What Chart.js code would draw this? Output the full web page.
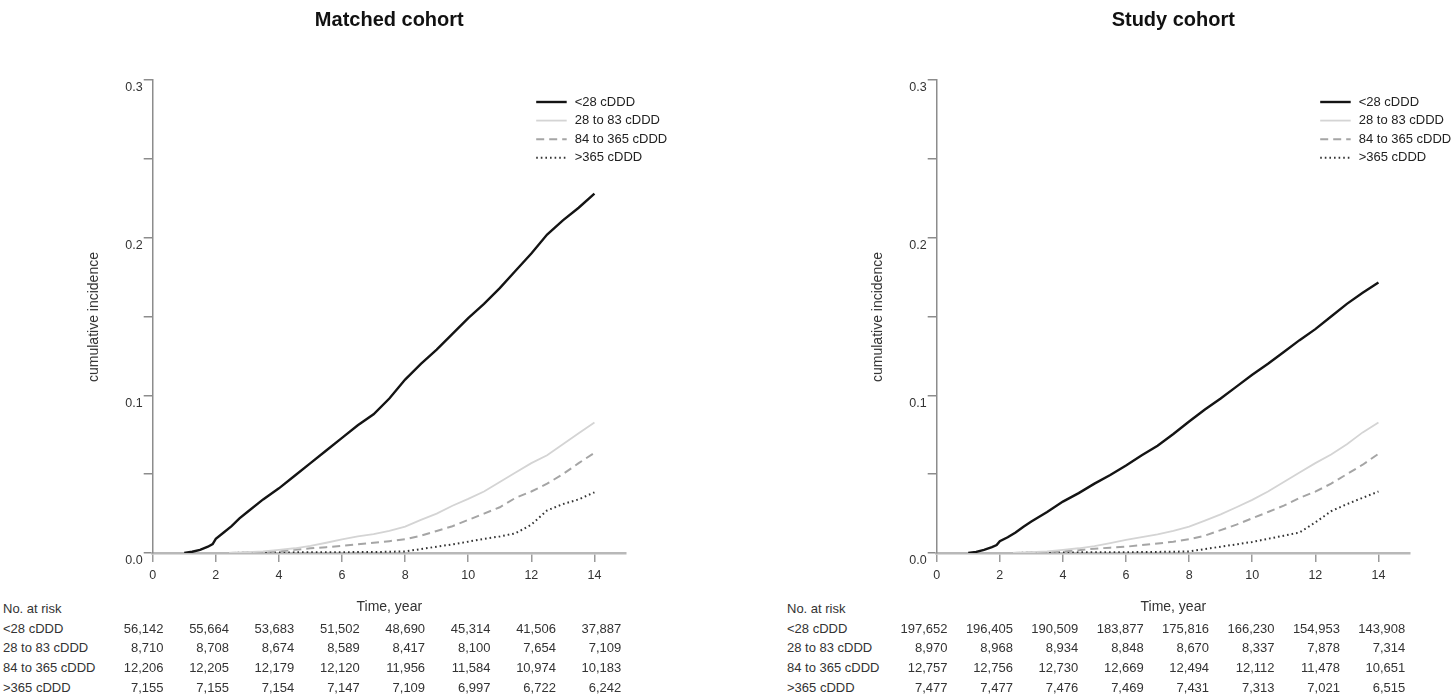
<!DOCTYPE html>
<html>
<head>
<meta charset="utf-8">
<script src="https://cdn.jsdelivr.net/npm/chart.js@4.4.1/dist/chart.umd.min.js"></script>
<style>
  body { margin: 0; background: #fff; font-family: 'Liberation Sans', Arial, sans-serif; color: #222; }
  #page { position: relative; width: 1455px; height: 694px; overflow: hidden; }
  .panel { position: absolute; top: 0; width: 700px; height: 694px; }
  .panel canvas { position: absolute; left: 0; top: 0; }
  .title { position: absolute; font-weight: bold; font-size: 20px; transform: translate(-50%, -50%); white-space: nowrap; color: #111; }
  .ylab { position: absolute; font-size: 14px; transform: translate(-50%, -50%) rotate(-90deg); white-space: nowrap; color: #333; }
  .cell { position: absolute; font-size: 13px; white-space: nowrap; line-height: 1; color: #333; transform: translateY(-50%); }
  .num { transform: translate(-100%, -50%); }
  .timehead { font-size: 14px; transform: translate(-50%, -50%); }
</style>
</head>
<body>
<div id="page">
  <div class="panel" id="panelMatched"><canvas id="matchedChart" width="700" height="600"></canvas></div>
  <div class="panel" id="panelStudy"><canvas id="studyChart" width="700" height="600"></canvas></div>
</div>
<script>
const groups = ['<28 cDDD', '28 to 83 cDDD', '84 to 365 cDDD', '>365 cDDD']

// time grids (years) for the curves
const timesEarly = [1, 1.25, 1.5, 1.75, 1.9, 2, 2.25, 2.5, 2.75, 3, 3.5, 4, 4.5, 5, 5.5, 6, 6.5, 7, 7.5, 8, 8.5, 9, 9.5, 10, 10.5, 11, 11.5, 12, 12.5, 13, 13.5, 14]
const timesLate = [2.4, 3, 3.5, 4, 4.5, 5, 5.5, 6, 6.5, 7, 7.5, 8, 8.5, 9, 9.5, 10, 10.5, 11, 11.5, 12, 12.5, 13, 13.5, 14]

// Matched cohort cumulative incidence
const matchedLt28 = [0, 0.0008, 0.002, 0.004, 0.0057, 0.009, 0.013, 0.017, 0.022, 0.026, 0.034, 0.041, 0.049, 0.057, 0.065, 0.073, 0.081, 0.088, 0.098, 0.110, 0.120, 0.129, 0.139, 0.149, 0.158, 0.168, 0.179, 0.190, 0.202, 0.211, 0.219, 0.228]
const matched28to83 = [0, 0.0005, 0.001, 0.002, 0.003, 0.0045, 0.0065, 0.0087, 0.0105, 0.012, 0.014, 0.0167, 0.021, 0.025, 0.030, 0.0343, 0.039, 0.045, 0.051, 0.057, 0.062, 0.069, 0.076, 0.0827]
const matched84to365 = [0, 0.0003, 0.0007, 0.0011, 0.002, 0.003, 0.0037, 0.0045, 0.0055, 0.0065, 0.0075, 0.0087, 0.011, 0.014, 0.017, 0.021, 0.025, 0.029, 0.035, 0.039, 0.044, 0.050, 0.057, 0.0635]
const matchedGt365 = [0, 0.0002, 0.0003, 0.0003, 0.0004, 0.0004, 0.0005, 0.0005, 0.0006, 0.0006, 0.0008, 0.001, 0.0025, 0.004, 0.0055, 0.0072, 0.009, 0.0105, 0.0125, 0.018, 0.027, 0.031, 0.034, 0.0385]

// Study cohort cumulative incidence
const studyLt28 = [0, 0.0007, 0.002, 0.0037, 0.005, 0.0075, 0.010, 0.013, 0.0167, 0.020, 0.026, 0.0326, 0.038, 0.044, 0.0495, 0.0555, 0.062, 0.068, 0.0755, 0.0834, 0.091, 0.098, 0.1055, 0.113, 0.120, 0.1275, 0.135, 0.142, 0.150, 0.158, 0.165, 0.1715]
const study28to83 = [0, 0.0005, 0.001, 0.002, 0.003, 0.0044, 0.0063, 0.0083, 0.010, 0.0118, 0.014, 0.0167, 0.0205, 0.0245, 0.029, 0.0337, 0.039, 0.045, 0.051, 0.057, 0.0625, 0.069, 0.0765, 0.0827]
const study84to365 = [0, 0.0003, 0.0006, 0.001, 0.0018, 0.0027, 0.0034, 0.004, 0.005, 0.006, 0.0072, 0.0087, 0.011, 0.0145, 0.018, 0.022, 0.026, 0.030, 0.035, 0.0389, 0.044, 0.050, 0.056, 0.0629]
const studyGt365 = [0, 0.0002, 0.0003, 0.0003, 0.0004, 0.0004, 0.0005, 0.0005, 0.0006, 0.0007, 0.0008, 0.001, 0.0025, 0.004, 0.0055, 0.007, 0.009, 0.011, 0.013, 0.0194, 0.0265, 0.031, 0.035, 0.039]

// Numbers at risk (at years 0, 2, ..., 14)
const matchedRiskLt28 = ['56,142', '55,664', '53,683', '51,502', '48,690', '45,314', '41,506', '37,887']
const matchedRisk28to83 = ['8,710', '8,708', '8,674', '8,589', '8,417', '8,100', '7,654', '7,109']
const matchedRisk84to365 = ['12,206', '12,205', '12,179', '12,120', '11,956', '11,584', '10,974', '10,183']
const matchedRiskGt365 = ['7,155', '7,155', '7,154', '7,147', '7,109', '6,997', '6,722', '6,242']
const studyRiskLt28 = ['197,652', '196,405', '190,509', '183,877', '175,816', '166,230', '154,953', '143,908']
const studyRisk28to83 = ['8,970', '8,968', '8,934', '8,848', '8,670', '8,337', '7,878', '7,314']
const studyRisk84to365 = ['12,757', '12,756', '12,730', '12,669', '12,494', '12,112', '11,478', '10,651']
const studyRiskGt365 = ['7,477', '7,477', '7,476', '7,469', '7,431', '7,313', '7,021', '6,515']

const FONT = 'Liberation Sans, Arial, sans-serif'

const lineStyles = [
  { borderColor: '#141414', borderWidth: 2.4, borderDash: [] },
  { borderColor: '#d4d4d4', borderWidth: 1.8, borderDash: [] },
  { borderColor: '#a5a5a5', borderWidth: 2, borderDash: [8, 5] },
  { borderColor: '#333333', borderWidth: 2, borderDash: [1.6, 3] }
]

const toPoints = (times, values) => values.map((v, i) => ({ x: times[i], y: v }))

// legend drawn inside the plot, top right, from the datasets' own styles
const legendBox = {
  id: 'legendBox',
  afterDraw(chart, args, opts) {
    const ctx = chart.ctx
    const { left, top } = chart.chartArea
    chart.data.datasets.forEach((ds, i) => {
      const y = top + opts.offsetY + i * opts.rowGap
      const x0 = left + opts.offsetX
      ctx.save()
      ctx.strokeStyle = ds.borderColor
      ctx.lineWidth = ds.borderWidth
      ctx.setLineDash(ds.borderDash || [])
      ctx.beginPath()
      ctx.moveTo(x0, y)
      ctx.lineTo(x0 + opts.lineLength, y)
      ctx.stroke()
      ctx.setLineDash([])
      ctx.fillStyle = '#222'
      ctx.font = '13px ' + FONT
      ctx.textBaseline = 'middle'
      ctx.fillText(ds.label, x0 + opts.lineLength + opts.gap, y)
      ctx.restore()
    })
  }
}

function makeChart(canvasId, series) {
  const ctx = document.getElementById(canvasId)
  return new Chart(ctx, {
    type: 'line',
    data: {
      datasets: series.map((s, i) => ({
        label: groups[i],
        data: s,
        ...lineStyles[i],
        pointRadius: 0,
        tension: 0,
        fill: false
      }))
    },
    plugins: [legendBox],
    options: {
      responsive: false,
      animation: false,
      devicePixelRatio: 1,
      layout: { padding: { top: 80, right: 74, left: 0, bottom: 0 } },
      plugins: {
        legend: { display: false },
        tooltip: { enabled: false },
        legendBox: { offsetX: 383.5, offsetY: 22, rowGap: 18.6, lineLength: 30.5, gap: 8 }
      },
      scales: {
        x: {
          type: 'linear',
          min: 0,
          max: 15,
          ticks: {
            stepSize: 2,
            includeBounds: false,
            autoSkip: false,
            maxRotation: 0,
            color: '#333',
            font: { size: 12.5, family: FONT },
            padding: 6
          },
          grid: { drawOnChartArea: false, drawTicks: true, tickLength: 9, color: '#9a9a9a', lineWidth: 1.5 },
          border: { display: true, color: '#b8b8b8', width: 2.5 },
          afterFit: (scale) => { scale.height = 47 }
        },
        y: {
          type: 'linear',
          min: 0,
          max: 0.3,
          ticks: {
            stepSize: 0.05,
            autoSkip: false,
            color: '#333',
            font: { size: 12.5, family: FONT },
            padding: 1,
            labelOffset: 8,
            callback: (v) => Math.abs(v * 10 - Math.round(v * 10)) < 1e-6 ? v.toFixed(1) : ''
          },
          grid: { drawOnChartArea: false, drawTicks: true, tickLength: 9, color: '#8c8c8c', lineWidth: 1.5 },
          border: { display: true, color: '#8c8c8c', width: 1.5 },
          afterFit: (scale) => { scale.width = 152.7 }
        }
      }
    }
  })
}

makeChart('matchedChart', [
  toPoints(timesEarly, matchedLt28),
  toPoints(timesLate, matched28to83),
  toPoints(timesLate, matched84to365),
  toPoints(timesLate, matchedGt365)
])

makeChart('studyChart', [
  toPoints(timesEarly, studyLt28),
  toPoints(timesLate, study28to83),
  toPoints(timesLate, study84to365),
  toPoints(timesLate, studyGt365)
])

function addText(panel, cls, text, x, y) {
  const d = document.createElement('div')
  d.className = cls
  d.textContent = text
  d.style.left = x + 'px'
  d.style.top = y + 'px'
  panel.appendChild(d)
}

function buildPanel(panelId, left, title, riskRows) {
  const panel = document.getElementById(panelId)
  panel.style.left = left + 'px'
  addText(panel, 'title', title, 389.3, 19)
  addText(panel, 'ylab', 'cumulative incidence', 93, 316.5)
  addText(panel, 'cell', 'No. at risk', 3, 608)
  addText(panel, 'cell timehead', 'Time, year', 389.3, 606)
  riskRows.forEach((row, r) => {
    const y = 627.5 + r * 19.7
    addText(panel, 'cell', groups[r], 3, y)
    row.forEach((val, c) => {
      addText(panel, 'cell num', val, 163.5 + c * 65.4, y)
    })
  })
}

buildPanel('panelMatched', 0, 'Matched cohort', [matchedRiskLt28, matchedRisk28to83, matchedRisk84to365, matchedRiskGt365])
buildPanel('panelStudy', 784, 'Study cohort', [studyRiskLt28, studyRisk28to83, studyRisk84to365, studyRiskGt365])
</script>
</body>
</html>
